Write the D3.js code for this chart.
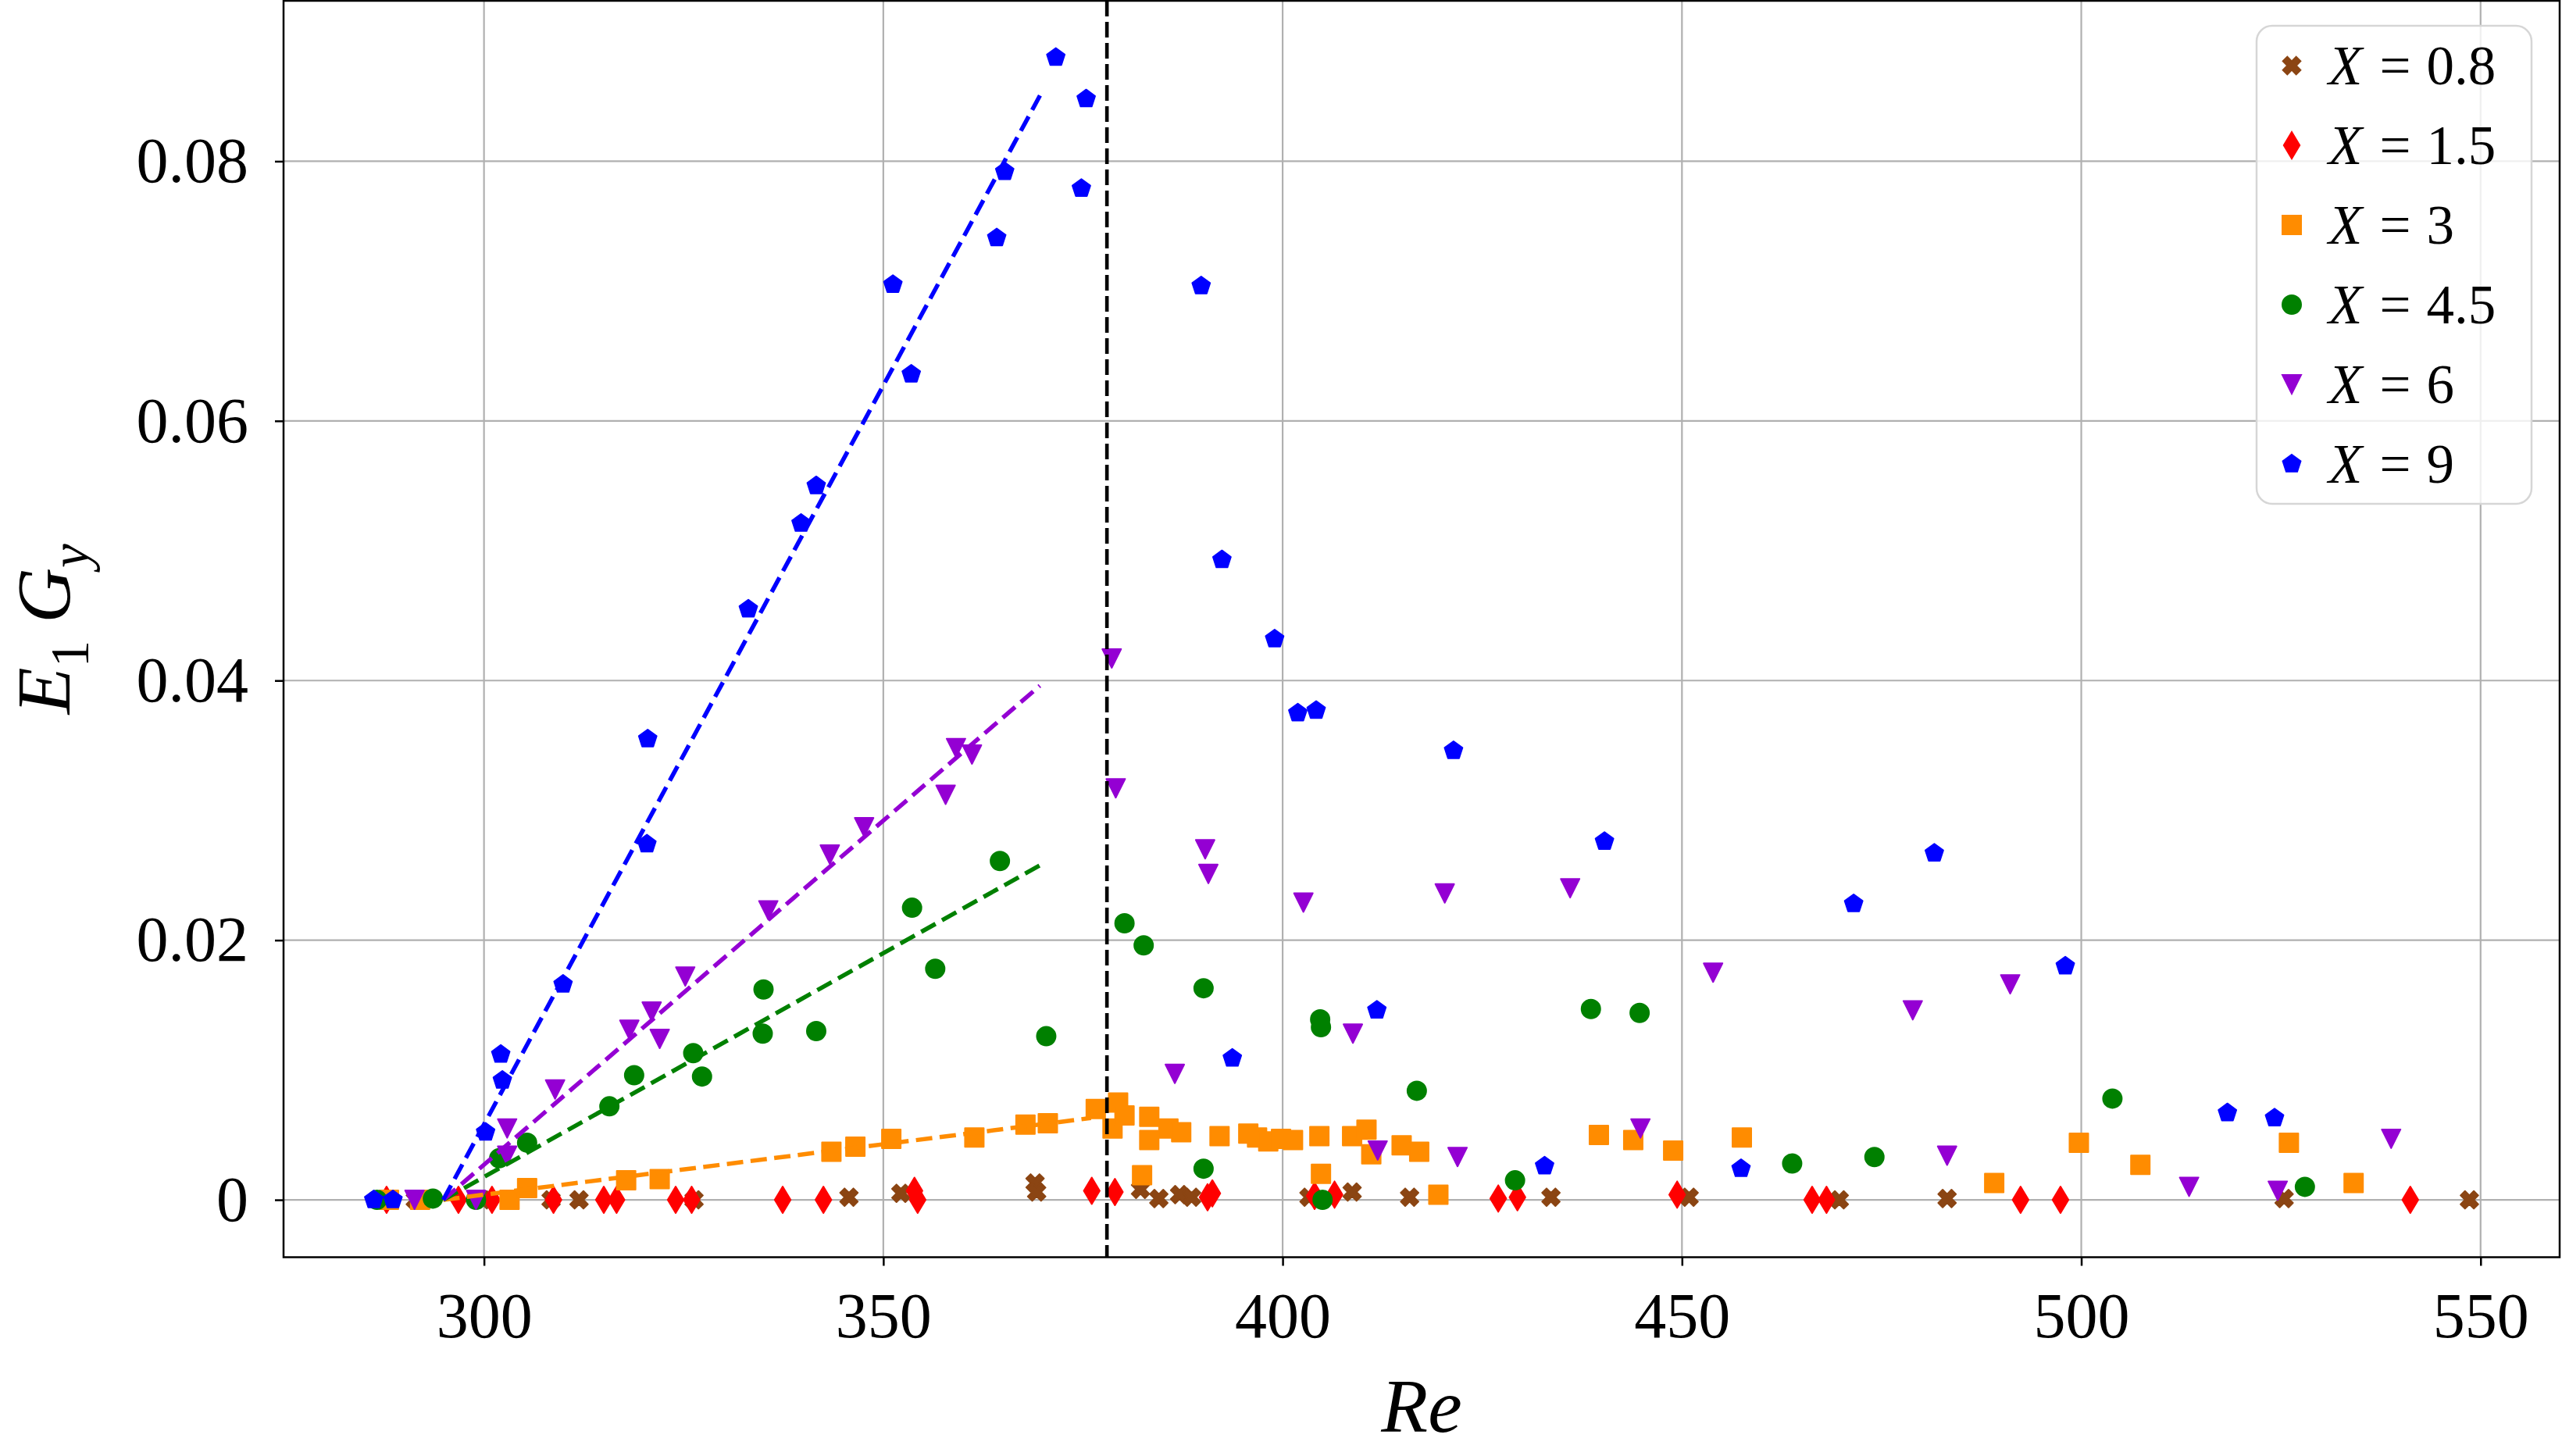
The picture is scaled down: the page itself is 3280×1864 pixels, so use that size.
<!DOCTYPE html>
<html>
<head>
<meta charset="utf-8">
<script src="https://cdn.jsdelivr.net/npm/d3@7"></script>
<style>
  body { margin: 0; background: #fff; }
  svg text { font-family: "Liberation Serif", "Times New Roman", serif; fill: #000; }
</style>
</head>
<body>
<div id="chart"></div>
<script>
// values, pairs of [Re, E1*Gy]
const seriesLabels = ["0.8", "1.5", "3", "4.5", "6", "9"];

const pointsX08 = [[291.4,0],[299.8,0],[308.4,0],[311.9,0],[326.3,0],[345.7,0.0002],[352.2,0.0005],[369.0,0.0013],[369.2,0.0006],
  [382.2,0.0008],[384.5,0.0001],[387.1,0.0004],[388.6,0.0002],[403.3,0.0002],[408.7,0.0006],[415.9,0.0002],[433.6,0.0002],
  [450.9,0.0002],[469.7,0],[483.2,0.0001],[525.4,0.0001],[548.6,0]];

const pointsX15 = [[287.8,0],[296.8,0],[301.0,0],[308.7,0],[315.0,0],[316.6,0],[324.0,0],[326.0,0],[337.4,0],[342.5,0],
  [353.9,0.0007],[354.3,0],[376.1,0.0007],[379.0,0.0006],[390.6,0.0002],[391.2,0.0005],[404.0,0.0003],[406.5,0.0004],
  [427.0,0.0001],[429.4,0.0002],[449.4,0.0004],[466.3,0],[468.1,0],[492.4,0],[497.4,0],[541.2,0]];

const pointsX3 = [[288.1,0],[292.0,0],[303.2,0],[305.4,0.0009],[317.8,0.0015],[322.0,0.0016],[343.5,0.0037],[346.5,0.0041],
  [351.0,0.0047],[361.4,0.0048],[367.8,0.0058],[370.6,0.0059],[376.6,0.0070],[378.7,0.0055],[379.4,0.0075],[380.2,0.0065],
  [382.4,0.0019],[383.3,0.0064],[383.3,0.0046],[385.7,0.0055],[387.3,0.0052],[392.1,0.0049],[395.7,0.0051],[396.8,0.0048],
  [398.2,0.0045],[399.8,0.0047],[401.3,0.0046],[404.6,0.0049],[404.8,0.0020],[408.7,0.0049],[410.5,0.0054],[411.1,0.0035],
  [414.9,0.0042],[417.1,0.0037],[419.5,0.0004],[439.6,0.0050],[443.9,0.0046],[448.9,0.0038],[457.5,0.0048],[489.1,0.0013],
  [499.7,0.0044],[507.4,0.0027],[526.0,0.0044],[534.1,0.0013]];

const pointsX45 = [[286.6,0],[293.6,0.0001],[299.0,0],[301.9,0.0032],[305.4,0.0044],[315.7,0.0072],[318.8,0.0096],[326.2,0.0113],
  [327.3,0.0095],[334.9,0.0128],[335.0,0.0162],[341.6,0.0130],[353.6,0.0225],[356.5,0.0178],[364.6,0.0261],[370.4,0.0126],
  [380.2,0.0213],[382.6,0.0196],[390.1,0.0163],[390.1,0.0024],[404.7,0.0139],[404.8,0.0133],[405.0,0],[416.8,0.0084],
  [429.1,0.0015],[438.6,0.0147],[444.7,0.0144],[463.8,0.0028],[474.1,0.0033],[503.9,0.0078],[528.0,0.0010]];

const pointsX6 = [[291.3,0],[299.0,0],[302.9,0.0034],[302.9,0.0055],[308.9,0.0085],[318.2,0.0131],[321.0,0.0145],[322.0,0.0124],
  [325.2,0.0172],[335.6,0.0223],[343.3,0.0266],[347.6,0.0287],[357.8,0.0312],[359.1,0.0348],[361.1,0.0343],[378.6,0.0417],
  [379.1,0.0317],[386.5,0.0097],[390.3,0.0270],[390.7,0.0251],[402.6,0.0229],[408.8,0.0128],[411.9,0.0038],[420.3,0.0236],
  [421.9,0.0033],[436.0,0.0240],[444.8,0.0055],[453.9,0.0175],[478.9,0.0146],[483.2,0.0034],[491.1,0.0166],[513.5,0.0010],
  [524.6,0.0007],[538.8,0.0047]];

const pointsX9 = [[286.2,0],[288.6,0],[300.2,0.0052],[302.1,0.0112],[302.3,0.0092],[309.9,0.0166],[320.4,0.0274],[320.5,0.0355],
  [333.1,0.0455],[339.7,0.0521],[341.6,0.0550],[351.2,0.0705],[353.5,0.0636],[364.2,0.0741],[365.2,0.0792],[371.6,0.0880],
  [374.8,0.0779],[375.4,0.0848],[389.8,0.0704],[392.4,0.0493],[393.7,0.0109],[399.0,0.0432],[401.9,0.0375],[404.2,0.0377],
  [411.8,0.0146],[421.4,0.0346],[432.8,0.0026],[440.3,0.0276],[457.4,0.0024],[471.5,0.0228],[481.6,0.0267],[498.0,0.0180],
  [518.3,0.0067],[524.2,0.0063]];

// dashed linear fits (start and end), one per series X = 3, 4.5, 6, 9
const fitX3 = [[294.9, 0], [376, 0.0063]];
const fitX45 = [[294.9, 0], [370, 0.0259]];
const fitX6 = [[294.9, 0], [369.6, 0.0396]];
const fitX9 = [[294.9, 0], [370, 0.0855]];
const criticalRe = 378;

const xTicks = [300, 350, 400, 450, 500, 550];
const yTicks = [0, 0.02, 0.04, 0.06, 0.08];
const yTickLabels = ["0", "0.02", "0.04", "0.06", "0.08"];

// ---- layout
const W = 3280, H = 1864;
const plot = { left: 363, right: 3277, top: 1, bottom: 1609.5 };
const colors = ["#8b4513", "#ff0000", "#ff8c00", "#008000", "#9400d3", "#0000ff"];
const markerSize = 24;

// marker shapes as d3 symbol types (size = m*m, m = marker size)
const filledX = { draw(ctx, size) {
  const m = Math.sqrt(size);
  const pts = [[-1,-3],[1,-3],[1,-1],[3,-1],[3,1],[1,1],[1,3],[-1,3],[-1,1],[-3,1],[-3,-1],[-1,-1]];
  const c = Math.SQRT1_2;
  pts.forEach((p, i) => {
    const px = p[0] / 6 * m, py = p[1] / 6 * m;
    const rx = (px - py) * c, ry = (px + py) * c;
    i ? ctx.lineTo(rx, ry) : ctx.moveTo(rx, ry);
  });
  ctx.closePath();
} };
const thinDiamond = { draw(ctx, size) {
  const m = Math.sqrt(size), h = 0.707 * m, w = 0.6 * 0.707 * m;
  ctx.moveTo(0, -h); ctx.lineTo(w, 0); ctx.lineTo(0, h); ctx.lineTo(-w, 0); ctx.closePath();
} };
const square = { draw(ctx, size) {
  const h = Math.sqrt(size) / 2;
  ctx.rect(-h, -h, 2 * h, 2 * h);
} };
const circle = { draw(ctx, size) {
  const r = Math.sqrt(size) / 2;
  ctx.moveTo(r, 0); ctx.arc(0, 0, r, 0, 2 * Math.PI);
} };
const triangleDown = { draw(ctx, size) {
  const h = Math.sqrt(size) / 2;
  ctx.moveTo(0, h); ctx.lineTo(h, -h); ctx.lineTo(-h, -h); ctx.closePath();
} };
const pentagon = { draw(ctx, size) {
  const r = Math.sqrt(size) / 2;
  for (let k = 0; k < 5; k++) {
    const a = -Math.PI / 2 + k * 2 * Math.PI / 5;
    k ? ctx.lineTo(r * Math.cos(a), r * Math.sin(a)) : ctx.moveTo(r * Math.cos(a), r * Math.sin(a));
  }
  ctx.closePath();
} };
const shapes = [filledX, thinDiamond, square, circle, triangleDown, pentagon];
const seriesData = [pointsX08, pointsX15, pointsX3, pointsX45, pointsX6, pointsX9];
const fits = [null, null, fitX3, fitX45, fitX6, fitX9];

const svg = d3.select("#chart").append("svg")
  .attr("width", W).attr("height", H)
  .style("display", "block");
svg.append("rect").attr("width", W).attr("height", H).attr("fill", "#fff");

const x = d3.scaleLinear().domain([274.9, 559.9]).range([plot.left, plot.right]);
const y = d3.scaleLinear().domain([-0.00442, 0.09236]).range([plot.bottom, plot.top]);

// grid
const grid = svg.append("g").attr("stroke", "#b0b0b0").attr("stroke-width", 2.2);
grid.selectAll(".gx").data(xTicks).join("line")
  .attr("x1", d => x(d)).attr("x2", d => x(d))
  .attr("y1", plot.top).attr("y2", plot.bottom);
grid.selectAll(".gy").data(yTicks).join("line")
  .attr("x1", plot.left).attr("x2", plot.right)
  .attr("y1", d => y(d)).attr("y2", d => y(d));

// markers
const symbol = d3.symbol().size(markerSize * markerSize);
seriesData.forEach((pts, i) => {
  svg.append("g")
    .selectAll("path").data(pts).join("path")
    .attr("transform", d => `translate(${x(d[0])},${y(d[1])})`)
    .attr("d", symbol.type(shapes[i])())
    .attr("fill", colors[i])
    .attr("stroke", colors[i])
    .attr("stroke-width", 2)
    .attr("stroke-linejoin", "round");
});

// fitted dashed lines
const line = d3.line().x(d => x(d[0])).y(d => y(d[1]));
fits.forEach((f, i) => {
  if (!f) return;
  svg.append("path").datum(f)
    .attr("d", line)
    .attr("fill", "none")
    .attr("stroke", colors[i])
    .attr("stroke-width", 5.5)
    .attr("stroke-dasharray", "21 9.5");
});

// critical Reynolds number
svg.append("line")
  .attr("x1", x(criticalRe)).attr("x2", x(criticalRe))
  .attr("y1", plot.top).attr("y2", plot.bottom)
  .attr("stroke", "#000").attr("stroke-width", 4.6)
  .attr("stroke-dasharray", "20 7");

// axes
const xAxis = svg.append("g")
  .attr("transform", `translate(0,${plot.bottom})`)
  .call(d3.axisBottom(x).tickValues(xTicks).tickSize(11).tickPadding(33).tickFormat(d3.format("d")));
const yAxis = svg.append("g")
  .attr("transform", `translate(${plot.left},0)`)
  .call(d3.axisLeft(y).tickValues(yTicks).tickSize(11).tickPadding(34).tickFormat((d, i) => yTickLabels[i]));
[xAxis, yAxis].forEach(a => {
  a.select(".domain").remove();
  a.selectAll(".tick line").attr("stroke", "#000").attr("stroke-width", 2.5);
  a.selectAll(".tick text").attr("font-size", 82).attr("font-family", "Liberation Serif");
});

// frame
svg.append("rect")
  .attr("x", plot.left).attr("y", plot.top)
  .attr("width", plot.right - plot.left).attr("height", plot.bottom - plot.top)
  .attr("fill", "none").attr("stroke", "#000").attr("stroke-width", 2.5);

// axis labels
svg.append("text")
  .attr("x", (plot.left + plot.right) / 2).attr("y", 1833)
  .attr("text-anchor", "middle").attr("font-size", 98).attr("font-style", "italic")
  .text("Re");

const ylab = svg.append("text")
  .attr("transform", `translate(89,${(plot.top + plot.bottom) / 2}) rotate(-90)`)
  .attr("text-anchor", "middle").attr("font-size", 98);
ylab.append("tspan").attr("font-style", "italic").text("E");
ylab.append("tspan").attr("font-size", 69).attr("dy", 24).text("1");
ylab.append("tspan").attr("dy", -24).attr("dx", 22).attr("font-style", "italic").text("G");
ylab.append("tspan").attr("font-size", 69).attr("dy", 24).attr("font-style", "italic").text("y");

// legend
const legend = svg.append("g");
legend.append("rect")
  .attr("x", 2889).attr("y", 33).attr("width", 352).attr("height", 612)
  .attr("rx", 20).attr("ry", 20)
  .attr("fill", "#fff").attr("fill-opacity", 0.8)
  .attr("stroke", "#d6d6d6").attr("stroke-width", 2.5);
const rows = legend.selectAll("g.row").data(seriesLabels).join("g")
  .attr("transform", (d, i) => `translate(0,${84 + 102 * i})`);
rows.append("path")
  .attr("transform", "translate(2934,0)")
  .attr("d", (d, i) => symbol.type(shapes[i])())
  .attr("fill", (d, i) => colors[i])
  .attr("stroke", (d, i) => colors[i])
  .attr("stroke-width", 2);
const lt = rows.append("text").attr("x", 2981).attr("y", 24).attr("font-size", 71);
lt.append("tspan").attr("font-style", "italic").text("X");
lt.append("tspan").attr("dx", 22).text("=");
lt.append("tspan").attr("dx", 20).text(d => d);
</script>
</body>
</html>
